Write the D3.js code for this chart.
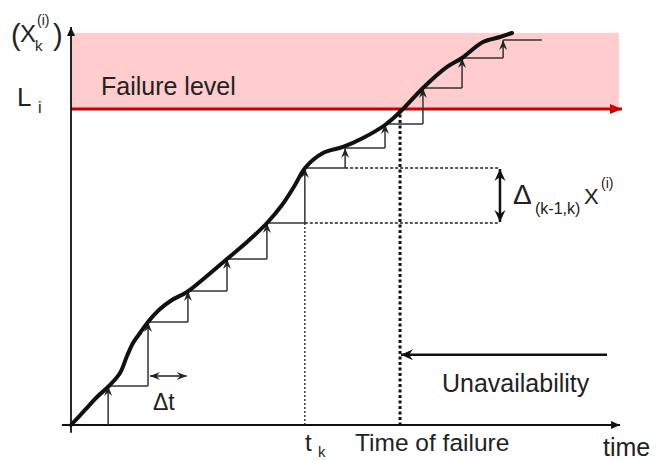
<!DOCTYPE html>
<html><head><meta charset="utf-8">
<script src="https://cdn.jsdelivr.net/npm/d3@7"></script>
<style>html,body{margin:0;padding:0;background:#fff}svg{display:block}text{font-family:"Liberation Sans",Arial,Helvetica,sans-serif;fill:#222}</style>
</head><body>
<script>
// ---- data (time in Δt units, degradation level 0..100) ----
const curveTimes  = [0,0.354,0.658,0.962,1.241,1.418,1.570,1.747,1.949,2.253,2.557,2.937,3.443,3.949,4.456,4.962,5.342,5.671,5.924,6.380,6.886,7.392,7.949,8.329,8.911,9.519,9.899,10.430,10.861,11.165];
const curveValues = [0,3.83,7.14,9.95,13.27,17.60,20.92,23.47,26.28,29.59,31.89,33.93,38.01,42.35,46.68,51.53,56.12,61.22,65.56,69.39,70.92,73.21,76.53,79.85,85.97,91.33,93.62,97.70,98.98,100];
const stepTimes   = [0.94,1.95,2.96,3.95,4.96,5.92,6.94,7.95,8.91,9.90,10.94];
const stepValues  = [9.95,26.28,34.18,42.35,51.53,65.56,70.66,76.79,85.97,93.62,98.21];
const lastStepEnd = 11.92;
const failureLevel = 80.6;
const bandTop = 100;
const tK = 5.92, kIndex = 5;        // step used for the Δ annotation
const tFailure = 8.33;
const deltaArrowTime = 10.86;
const unavailFrom = 13.57, unavailLevel = 17.9;
const dtArrow = [2.0, 2.93], dtLevel = 12.5;

const W = 667, H = 461;
const x = d3.scaleLinear().domain([0, 14]).range([71, 71 + 14 * 39.5]);
const y = d3.scaleLinear().domain([0, 100]).range([425, 33]);

const svg = d3.select("body").append("svg").attr("width", W).attr("height", H);
const defs = svg.append("defs");
function marker(id, color, path, w, h) {
  defs.append("marker").attr("id", id).attr("viewBox", `-${w} -${h/2} ${w} ${h}`)
    .attr("markerUnits", "userSpaceOnUse").attr("markerWidth", w).attr("markerHeight", h)
    .attr("refX", 0).attr("refY", 0).attr("orient", "auto-start-reverse")
    .append("path").attr("d", path).attr("fill", color);
}
marker("thin", "#222", "M0,0 L-10,-4 L-6.5,0 L-10,4 Z", 11, 9);
marker("bold", "#111", "M0,0 L-12,-5.5 L-8,0 L-12,5.5 Z", 13, 12);
marker("axis", "#111", "M0,0 L-9,-4 L-9,4 Z", 10, 9);
marker("red", "#cc0000", "M0,0 L-12,-5 L-12,5 Z", 13, 11);

// failure band
svg.append("rect").attr("x", x(0)).attr("y", y(bandTop))
  .attr("width", x(13.87) - x(0)).attr("height", y(failureLevel) - y(bandTop))
  .attr("fill", "#ffcdcd");
svg.append("line").attr("x1", x(0)).attr("x2", x(13.95)).attr("y1", y(failureLevel)).attr("y2", y(failureLevel))
  .attr("stroke", "#cc0000").attr("stroke-width", 3).attr("marker-end", "url(#red)");

// axes
svg.append("line").attr("x1", x(0)).attr("x2", x(0)).attr("y1", y(-2)).attr("y2", y(101.5))
  .attr("stroke", "#111").attr("stroke-width", 1.8).attr("marker-end", "url(#axis)");
svg.append("line").attr("x1", x(-0.23)).attr("x2", x(13.9)).attr("y1", y(0)).attr("y2", y(0))
  .attr("stroke", "#111").attr("stroke-width", 1.8).attr("marker-end", "url(#axis)");

// dotted guides
const g = svg.append("g").attr("fill", "none");
g.append("line").attr("x1", x(tK)).attr("x2", x(tK)).attr("y1", y(stepValues[kIndex-1])).attr("y2", y(0))
  .attr("stroke", "#222").attr("stroke-width", 1.3).attr("stroke-dasharray", "2,2");
g.append("line").attr("x1", x(tK)).attr("x2", x(deltaArrowTime)).attr("y1", y(stepValues[kIndex-1])).attr("y2", y(stepValues[kIndex-1]))
  .attr("stroke", "#222").attr("stroke-width", 1.5).attr("stroke-dasharray", "3,2");
g.append("line").attr("x1", x(stepTimes[kIndex+1])).attr("x2", x(deltaArrowTime)).attr("y1", y(stepValues[kIndex])).attr("y2", y(stepValues[kIndex]))
  .attr("stroke", "#222").attr("stroke-width", 1.5).attr("stroke-dasharray", "3,2");
g.append("line").attr("x1", x(tFailure)).attr("x2", x(tFailure)).attr("y1", y(failureLevel)).attr("y2", y(0))
  .attr("stroke", "#111").attr("stroke-width", 3).attr("stroke-dasharray", "3,2.5");

// steps
const steps = svg.append("g").attr("stroke", "#333").attr("stroke-width", 1.5).attr("fill", "none");
stepTimes.forEach((t, i) => {
  const prev = i === 0 ? 0 : stepValues[i-1];
  steps.append("line").attr("x1", x(t)).attr("x2", x(t)).attr("y1", y(prev)).attr("y2", y(stepValues[i]))
    .attr("marker-end", "url(#thin)");
  const nextT = i < stepTimes.length - 1 ? stepTimes[i+1] : lastStepEnd;
  steps.append("line").attr("x1", x(t)).attr("x2", x(nextT)).attr("y1", y(stepValues[i])).attr("y2", y(stepValues[i]));
});

// degradation curve
const line = d3.line().x(d => x(d[0])).y(d => y(d[1])).curve(d3.curveCatmullRom.alpha(0.5));
svg.append("path").datum(curveTimes.map((t, i) => [t, curveValues[i]]))
  .attr("d", line).attr("fill", "none").attr("stroke", "#111").attr("stroke-width", 4).attr("stroke-linecap", "round");

// Δ arrow
svg.append("line").attr("x1", x(deltaArrowTime)).attr("x2", x(deltaArrowTime))
  .attr("y1", y(stepValues[kIndex-1]) - 1).attr("y2", y(stepValues[kIndex]) + 1)
  .attr("stroke", "#111").attr("stroke-width", 2.5).attr("marker-start", "url(#bold)").attr("marker-end", "url(#bold)");
// Δt arrow
svg.append("line").attr("x1", x(dtArrow[0])).attr("x2", x(dtArrow[1])).attr("y1", y(dtLevel)).attr("y2", y(dtLevel))
  .attr("stroke", "#222").attr("stroke-width", 1.5).attr("marker-start", "url(#thin)").attr("marker-end", "url(#thin)");
// unavailability arrow
svg.append("line").attr("x1", x(unavailFrom)).attr("x2", x(tFailure) + 1).attr("y1", y(unavailLevel)).attr("y2", y(unavailLevel))
  .attr("stroke", "#111").attr("stroke-width", 2.5).attr("marker-end", "url(#bold)");

// labels
function txt(s, px, py, size) {
  return svg.append("text").attr("x", px).attr("y", py).attr("font-size", size).text(s);
}
txt("(", 11, 45, 29); txt("X", 20, 42, 24); txt("k", 35, 51, 15); txt("(i)", 37, 25, 14); txt(")", 53, 45, 29);
txt("L", 17, 106, 26); txt("i", 38, 113, 16);
txt("Failure level", 101, 95, 25);
txt("Δ", 513, 204, 28); txt("(k-1,k)", 535, 214, 16); txt("X", 584, 204, 22); txt("(i)", 601, 188, 14);
txt("Δt", 153, 410, 23);
txt("Unavailability", 442, 392, 25);
txt("t", 305, 451, 24); txt("k", 318, 457, 15);
txt("Time of failure", 355, 451, 24.5);
txt("time", 603, 456, 25);
</script>
</body></html>
